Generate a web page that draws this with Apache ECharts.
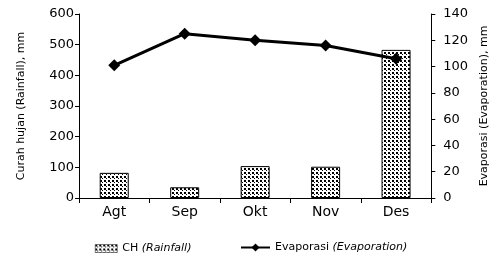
<!DOCTYPE html>
<html>
<head>
<meta charset="utf-8">
<script src="https://cdn.jsdelivr.net/npm/echarts@6/dist/echarts.min.js"></script>
<style>
html, body { margin: 0; padding: 0; background: #fff; }
#chart { width: 498px; height: 264px; }
</style>
</head>
<body>
<div id="chart"></div>
<script>
var months = ['Agt', 'Sep', 'Okt', 'Nov', 'Des'];
var rainfall = [82, 35, 104, 102, 483];
var evaporation = [101, 125, 120, 116, 106];

// dotted fill like the original
var makeDots = function() {
	var c = document.createElement('canvas');
	c.width = 4;
	c.height = 4;
	var ctx = c.getContext('2d');
	ctx.fillStyle = '#fff';
	ctx.fillRect(0, 0, 4, 4);
	ctx.fillStyle = '#000';
	ctx.fillRect(0, 0, 2, 2);
	ctx.fillRect(2, 2, 1, 1);
	return c;
};
var dots = makeDots();
var font = 'DejaVu Sans';
var legendText = {
	fontFamily: font, fontSize: 11, color: '#000',
	rich: { i: { fontStyle: 'italic', fontFamily: font, fontSize: 11, color: '#000' } }
};

var chart = echarts.init(document.getElementById('chart'));
chart.setOption({
	animation: false,
	textStyle: { fontFamily: font, color: '#000' },
	grid: { left: 79, right: 62, top: 14, bottom: 66 },
	legend: [{
		top: 238,
		left: 90,
		itemWidth: 22,
		itemHeight: 8,
		itemGap: 9,
		textStyle: legendText,
		formatter: function(name) {
			return 'CH {i|(Rainfall)}';
		},
		data: [{ name: 'CH', icon: 'rect', itemStyle: { color: { image: dots, repeat: 'repeat' }, borderColor: '#000', borderWidth: 0.5 } }]
	}, {
		top: 237,
		left: 235,
		itemWidth: 29,
		itemHeight: 10,
		textStyle: legendText,
		formatter: function(name) {
			return 'Evaporasi {i|(Evaporation)}';
		},
		data: ['Evaporasi']
	}],
	xAxis: [{
		type: 'category',
		data: months,
		axisLine: { lineStyle: { color: '#000', width: 1 } },
		axisTick: { show: true, length: 5, lineStyle: { color: '#000' } },
		axisLabel: { color: '#000', fontSize: 14, margin: 7, fontFamily: font }
	}],
	yAxis: [{
		type: 'value',
		min: 0,
		max: 600,
		interval: 100,
		name: 'Curah hujan (Rainfall), mm',
		nameLocation: 'middle',
		nameGap: 52,
		nameTextStyle: { fontSize: 11, color: '#000', fontFamily: font },
		axisLine: { show: true, lineStyle: { color: '#000' } },
		axisTick: { show: true, length: 4, lineStyle: { color: '#000' } },
		axisLabel: { color: '#000', fontSize: 13, margin: 5, fontFamily: font },
		splitLine: { show: false }
	}, {
		type: 'value',
		min: 0,
		max: 140,
		interval: 20,
		position: 'right',
		name: 'Evaporasi (Evaporation), mm',
		nameLocation: 'middle',
		nameRotate: 90,
		nameGap: 46,
		nameTextStyle: { fontSize: 11, color: '#000', fontFamily: font },
		axisLine: { show: true, lineStyle: { color: '#000' } },
		axisTick: { show: true, length: 4, lineStyle: { color: '#000' } },
		axisLabel: { color: '#000', fontSize: 13, margin: 12, fontFamily: font },
		splitLine: { show: false }
	}],
	series: [{
		name: 'CH',
		type: 'bar',
		data: rainfall,
		barWidth: 29,
		itemStyle: {
			color: { image: dots, repeat: 'repeat' },
			borderColor: '#000',
			borderWidth: 1
		}
	}, {
		name: 'Evaporasi',
		type: 'line',
		yAxisIndex: 1,
		data: evaporation,
		symbol: 'diamond',
		symbolSize: 12,
		lineStyle: { color: '#000', width: 3 },
		itemStyle: { color: '#000' }
	}]
});
</script>
</body>
</html>
